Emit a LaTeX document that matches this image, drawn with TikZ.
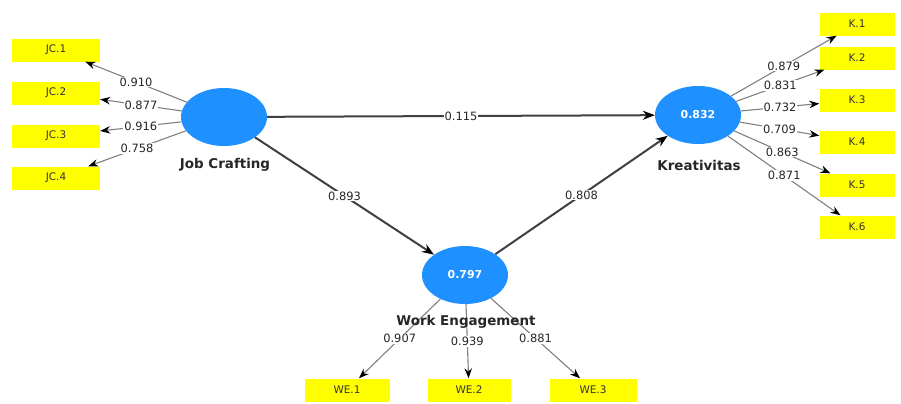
\documentclass[tikz,border=0pt]{standalone}
\usepackage{fontspec}
\setmainfont{DejaVu Sans}
\usetikzlibrary{arrows.meta,shapes}
\definecolor{lvblue}{RGB}{30,144,255}
\definecolor{mvyellow}{RGB}{255,255,0}
\tikzstyle{latent}=[ellipse,fill=lvblue,minimum width=86bp,minimum height=58bp,inner sep=0pt,text=white,font=\fontsize{11}{13}\selectfont\bfseries]
\tikzstyle{manifest}=[rectangle,fill=mvyellow,minimum height=23bp,inner sep=0pt,text=black!80,font=\fontsize{10.5}{12}\selectfont]
\tikzstyle{lvname}=[text=black!85,font=\fontsize{13.5}{15}\selectfont\bfseries]
\tikzstyle{coef}=[fill=white,inner sep=1pt,text=black!85,font=\fontsize{11.5}{13}\selectfont]
\tikzstyle{loading}=[-{Stealth[length=10bp,width=7.5bp,color=black]},draw=black!50,line width=1.1bp]
\tikzstyle{structural}=[-{Stealth[length=12bp,width=9bp,color=black]},draw=black!75,line width=2bp]

\begin{document}
\begin{tikzpicture}[x=1bp,y=-1bp]
\fill[white] (0,0) rectangle (901,403);
\node[latent] (JC) at (224,117) {};
\node[latent] (K) at (698,115) {0.832};
\node[latent] (WE) at (465,275) {0.797};
\node[manifest,minimum width=88bp] (JC1) at (56,50) {JC.1};
\node[manifest,minimum width=88bp] (JC2) at (56,93) {JC.2};
\node[manifest,minimum width=88bp] (JC3) at (56,136) {JC.3};
\node[manifest,minimum width=88bp] (JC4) at (56,178) {JC.4};
\node[manifest,minimum width=75bp] (K1) at (857,24) {K.1};
\node[manifest,minimum width=75bp] (K2) at (857,58) {K.2};
\node[manifest,minimum width=75bp] (K3) at (857,100) {K.3};
\node[manifest,minimum width=75bp] (K4) at (857,142) {K.4};
\node[manifest,minimum width=75bp] (K5) at (857,185) {K.5};
\node[manifest,minimum width=75bp] (K6) at (857,227) {K.6};
\node[manifest,minimum width=85bp] (WE1) at (347,390) {WE.1};
\node[manifest,minimum width=83bp] (WE2) at (469,390) {WE.2};
\node[manifest,minimum width=87bp] (WE3) at (593,390) {WE.3};
\draw[structural](JC)--node[coef]{0.115}(K);
\draw[structural](JC)--node[coef]{0.893}(WE);
\draw[structural](WE)--node[coef]{0.808}(K);
\draw[loading](JC)--node[coef]{0.910}(JC1);\draw[loading](JC)--node[coef]{0.877}(JC2);
\draw[loading](JC)--node[coef]{0.916}(JC3);\draw[loading](JC)--node[coef]{0.758}(JC4);
\draw[loading](K)--node[coef]{0.879}(K1);\draw[loading](K)--node[coef]{0.831}(K2);
\draw[loading](K)--node[coef]{0.732}(K3);\draw[loading](K)--node[coef]{0.709}(K4);
\draw[loading](K)--node[coef]{0.863}(K5);\draw[loading](K)--node[coef]{0.871}(K6);
\draw[loading](WE)--node[coef]{0.907}(WE1);\draw[loading](WE)--node[coef]{0.939}(WE2);
\draw[loading](WE)--node[coef]{0.881}(WE3);
\node[lvname] (JCname) at (225,165) {Job Crafting};
\node[lvname] (Kname) at (699,165) {Kreativitas};
\node[lvname] (WEname) at (466,322) {Work Engagement};
\end{tikzpicture}
\end{document}
